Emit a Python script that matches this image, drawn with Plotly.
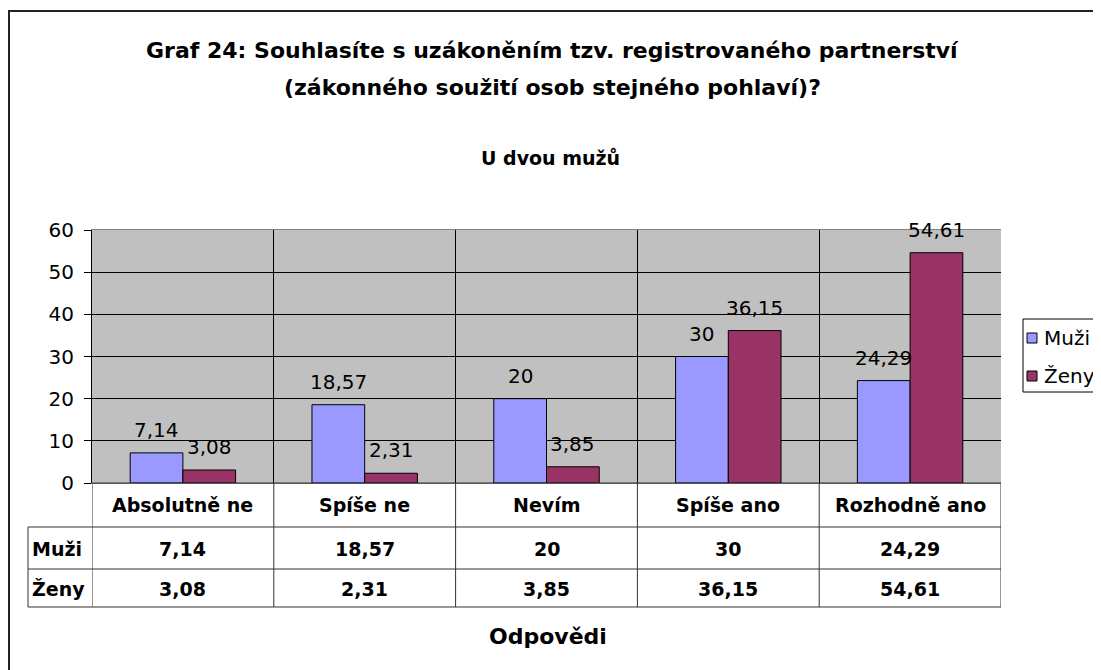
import plotly.graph_objects as go

categories = ["Absolutně ne", "Spíše ne", "Nevím", "Spíše ano", "Rozhodně ano"]
muzi = [7.14, 18.57, 20, 30, 24.29]
zeny = [3.08, 2.31, 3.85, 36.15, 54.61]
series_names = ["Muži", "Ženy"]
colors = ["#9999FF", "#993366"]
y_ticks = [0, 10, 20, 30, 40, 50, 60]

title_lines = ["Graf 24: Souhlasíte s uzákoněním tzv. registrovaného partnerství",
               "(zákonného soužití osob stejného pohlaví)?"]
subtitle_text = "U dvou mužů"
xaxis_title = "Odpovědi"


def fmt(v):
    return f"{v:g}".replace(".", ",")


FONT = "DejaVu Sans, Verdana, sans-serif"
OFF = 8  # page body margin
W, H = 1101, 670
ML, MR, MT, MB = 84, 108, 222, 195
PH = H - MT - MB
PW = W - ML - MR
BARGAP = 0.42


def py(page_y):
    return (H - MB - (page_y - OFF)) / PH


def px(page_x):
    return ((page_x - OFF) - ML) / PW


fig = go.Figure()
for name, vals, col in zip(series_names, [muzi, zeny], colors):
    fig.add_trace(go.Bar(
        x=categories, y=vals, name=name,
        marker=dict(color=col, line=dict(color="black", width=1)),
        showlegend=False,
    ))

fig.update_layout(
    width=W, height=H,
    margin=dict(l=ML, r=MR, t=MT, b=MB, autoexpand=False),
    paper_bgcolor="white", plot_bgcolor="#C0C0C0",
    barmode="group", bargap=BARGAP, bargroupgap=0,
    font=dict(family=FONT, color="black"),
    showlegend=False,
)
fig.update_xaxes(
    type="category", range=[-0.5, len(categories) - 0.5],
    tickson="boundaries", showgrid=True, gridcolor="#000000", gridwidth=1,
    showticklabels=False, ticks="", showline=True, linecolor="#808080", mirror=True,
    zeroline=False,
)
fig.update_yaxes(
    range=[0, 60], tickvals=y_ticks, ticktext=[str(t) for t in y_ticks],
    showgrid=True, gridcolor="#000000", gridwidth=1,
    ticks="outside", ticklen=7, tickcolor="black", ticklabelstandoff=6,
    tickfont=dict(family=FONT, size=20, color="black"),
    showline=True, linecolor="black", mirror=False, zeroline=False,
)

# Bar value labels (above each bar, Excel style)
cat_px = PW / len(categories)
bar_px = cat_px * (1 - BARGAP) / len(series_names)
for s, vals in enumerate([muzi, zeny]):
    shift = (s - (len(series_names) - 1) / 2) * bar_px
    for c, v in zip(categories, vals):
        fig.add_annotation(text=fmt(v), xref="x", yref="y", x=c, y=v, xshift=shift,
                           yanchor="bottom", xanchor="center", yshift=9, showarrow=False,
                           font=dict(family=FONT, size=20, color="black"))

# Titles
for line, yc in zip(title_lines, [50, 88]):
    fig.add_annotation(text="<b>" + line + "</b>", xref="paper", yref="paper",
                       x=px(552), y=py(yc), showarrow=False, xanchor="center", yanchor="middle",
                       font=dict(family=FONT, size=22, color="black"))
fig.add_annotation(text="<b>" + subtitle_text + "</b>", xref="paper", yref="paper",
                   x=px(550), y=py(158), showarrow=False, xanchor="center", yanchor="middle",
                   font=dict(family=FONT, size=19, color="black"))
fig.add_annotation(text="<b>" + xaxis_title + "</b>", xref="paper", yref="paper",
                   x=px(548), y=py(636), showarrow=False, xanchor="center", yanchor="middle",
                   font=dict(family=FONT, size=22, color="black"))

# Data table
LC = "#333333"
row_tops = [483, 527, 569, 607]
left_col = px(28)
n = len(categories)
fig.add_shape(type="line", xref="paper", yref="paper", x0=0, x1=1, y0=py(483), y1=py(483),
              line=dict(color=LC, width=1))
for yy in row_tops[1:]:
    fig.add_shape(type="line", xref="paper", yref="paper", x0=left_col, x1=1, y0=py(yy), y1=py(yy),
                  line=dict(color=LC, width=1))
for i in range(n + 1):
    fig.add_shape(type="line", xref="x", yref="paper", x0=i - 0.5, x1=i - 0.5,
                  y0=py(483), y1=py(607), line=dict(color=LC, width=1))
fig.add_shape(type="line", xref="paper", yref="paper", x0=left_col, x1=left_col,
              y0=py(527), y1=py(607), line=dict(color=LC, width=1))

row_centers = [505, 549, 589]
for i, c in enumerate(categories):
    fig.add_annotation(text="<b>" + c + "</b>", xref="x", yref="paper", x=i, y=py(row_centers[0]),
                       yanchor="middle", showarrow=False,
                       font=dict(family=FONT, size=19, color="black"))
    for r, vals in enumerate([muzi, zeny]):
        fig.add_annotation(text="<b>" + fmt(vals[i]) + "</b>", xref="x", yref="paper", x=i,
                           y=py(row_centers[r + 1]), yanchor="middle", showarrow=False,
                           font=dict(family=FONT, size=19, color="black"))
for r, name in enumerate(series_names):
    fig.add_annotation(text="<b>" + name + "</b>", xref="paper", yref="paper",
                       x=px(30), y=py(row_centers[r + 1]), xanchor="left", yanchor="middle",
                       showarrow=False, font=dict(family=FONT, size=19, color="black"))

# Legend (drawn manually to match the Excel layout)
fig.add_shape(type="rect", xref="paper", yref="paper", x0=px(1023), x1=px(1200),
              y0=py(392), y1=py(319), line=dict(color="black", width=1), fillcolor="white")
for name, col, yc in zip(series_names, colors, [338, 376]):
    fig.add_shape(type="rect", xref="paper", yref="paper", x0=px(1027), x1=px(1037),
                  y0=py(yc + 5), y1=py(yc - 5), line=dict(color="black", width=1), fillcolor=col)
    fig.add_annotation(text=name, xref="paper", yref="paper", x=px(1042), y=py(yc),
                       xanchor="left", yanchor="middle", showarrow=False,
                       font=dict(family=FONT, size=20, color="black"))

# Outer chart border
fig.add_shape(type="rect", xref="paper", yref="paper", x0=px(9), x1=px(1200),
              y0=py(1000), y1=py(11), line=dict(color="#222222", width=2), layer="below")

fig.write_html("out.html")
